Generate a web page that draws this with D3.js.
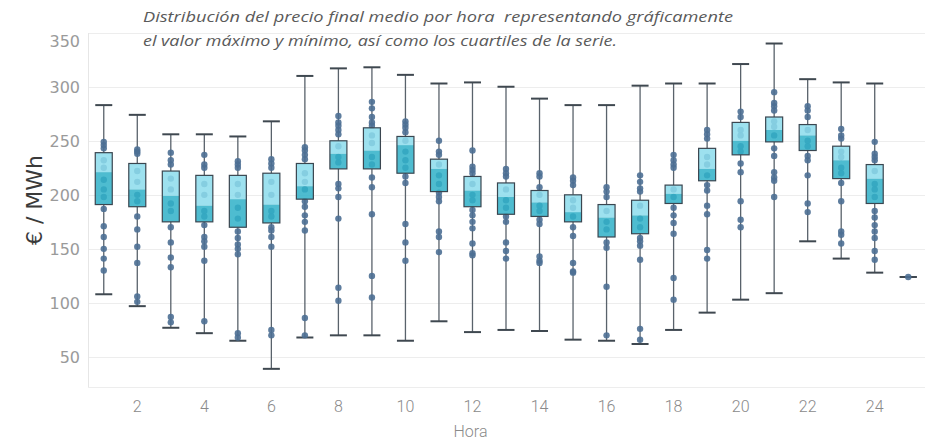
<!DOCTYPE html>
<html><head><meta charset="utf-8">
<script src="https://cdn.jsdelivr.net/npm/d3@7"></script>
<style>
html,body{margin:0;padding:0;background:#fff;}
svg{display:block;}
</style></head>
<body>
<svg id="chart" width="930" height="442"></svg>
<script>
const hours = [1,2,3,4,5,6,7,8,9,10,11,12,13,14,15,16,17,18,19,20,21,22,23,24,25];
const minVals    = [108, 97, 77, 72, 65, 39, 68, 70, 70, 65, 83, 73, 75, 74, 66, 65, 62, 75, 91,103,109,157,141,128,124];
const q1Vals     = [191,189,175,175,170,174,196,224,224,220,203,189,182,180,175,161,164,192,213,237,249,241,215,192,124];
const medianVals = [221,205,199,190,196,191,208,238,241,246,224,204,198,193,184,179,181,201,224,250,260,255,232,215,124];
const q3Vals     = [239,229,222,218,218,220,229,250,262,254,233,217,211,204,200,191,195,209,243,267,272,265,245,228,124];
const maxVals    = [283,274,256,256,254,268,310,317,318,311,303,304,300,289,283,283,301,303,303,321,340,307,304,303,124];
const pointVals = [
  [249,246,243,232,225,214,205,198,187,171,161,150,141,130],
  [242,240,238,222,212,200,194,180,168,152,137,106,101],
  [239,232,228,215,205,192,185,170,156,142,133,87,82],
  [237,228,225,210,200,185,180,172,161,157,152,139,83],
  [231,228,225,210,200,188,178,166,160,154,150,145,72,68],
  [233,229,225,212,200,185,180,170,167,161,152,75,70],
  [244,241,237,233,220,212,205,194,189,181,175,167,86,70],
  [273,267,264,260,256,245,235,230,210,206,198,178,114,102],
  [286,280,272,267,264,255,248,235,228,216,207,182,125,105],
  [268,265,262,258,250,240,232,225,217,211,173,156,139],
  [250,240,237,228,218,210,202,198,194,166,161,147],
  [241,226,223,220,210,200,195,186,181,175,169,155,146,144],
  [224,220,217,205,195,188,180,175,156,148,141],
  [220,217,207,200,190,185,177,173,143,139,137],
  [216,213,209,195,188,180,170,162,137,129,128],
  [207,203,198,185,175,168,156,151,115,70],
  [218,212,206,203,190,178,170,160,157,153,140,76,66],
  [237,232,228,225,205,198,188,181,174,164,123,103],
  [260,256,252,235,228,218,209,204,190,182,149,141],
  [277,272,260,255,245,240,229,221,194,177,170],
  [295,285,282,278,268,263,255,243,236,221,216,213,198],
  [282,278,272,260,250,245,236,232,218,192,184],
  [261,255,252,240,235,225,220,211,194,166,163,155],
  [249,238,235,232,222,210,205,198,185,179,172,166,160,148,140],
  [124]
];
const yTicks = [50,100,150,200,250,300,350];
const xTicks = [2,4,6,8,10,12,14,16,18,20,22,24];
const titleLines = ["Distribución del precio final medio por hora  representando gráficamente",
                    "el valor máximo y mínimo, así como los cuartiles de la serie."];

const svg = d3.select("#chart");
const plotLeft = 88, plotRight = 925, plotTop = 33, plotBottom = 387;
const x = d3.scaleBand().domain(hours).range([87, plotRight]).padding(0);
const y = d3.scaleLinear().domain([22.2, 350]).range([plotBottom, 32.7]);
const bw = 17;

// gridlines
svg.append("g").selectAll("line").data(yTicks).join("line")
  .attr("x1", plotLeft).attr("x2", plotRight)
  .attr("y1", d => Math.round(y(d)) + 0.5).attr("y2", d => Math.round(y(d)) + 0.5)
  .attr("stroke", "#ededed").attr("stroke-width", 1);
// frame
svg.append("line").attr("x1", plotLeft + 0.5).attr("x2", plotLeft + 0.5).attr("y1", plotTop).attr("y2", plotBottom)
  .attr("stroke", "#e6e6e6");
svg.append("line").attr("x1", plotLeft).attr("x2", plotRight).attr("y1", plotBottom + 0.5).attr("y2", plotBottom + 0.5)
  .attr("stroke", "#ededed");

// y axis
const yAxis = d3.axisLeft(y).tickValues(yTicks).tickSize(0).tickPadding(8);
const gy = svg.append("g").attr("transform", `translate(${plotLeft},0)`).call(yAxis);
gy.select(".domain").remove();
gy.selectAll("text").attr("font-family", "DejaVu Sans").attr("font-size", 16).attr("fill", "#9a9a9a")
  .attr("dy", "0.36em");
gy.selectAll(".tick").filter(d => d === 350).select("text").attr("dy", "0.85em");

// x axis
const xAxis = d3.axisBottom(x).tickValues(xTicks).tickSize(0).tickPadding(14);
const gx = svg.append("g").attr("transform", `translate(0,${plotBottom})`).call(xAxis);
gx.select(".domain").remove();
gx.selectAll("text").attr("font-family", "Roboto").attr("font-weight", 300)
  .attr("font-size", 16).attr("fill", "#8a8a8a");

svg.append("text").attr("x", x(12) + x.bandwidth()/2 - 2).attr("y", 437).attr("text-anchor", "middle")
  .attr("font-family", "Roboto").attr("font-weight", 300)
  .attr("font-size", 16).attr("fill", "#8a8a8a").text("Hora");

svg.append("text").attr("transform", `translate(42,200) rotate(-90)`).attr("text-anchor", "middle")
  .attr("font-family", "DejaVu Sans").attr("font-size", 22).attr("fill", "#3a3a3a").text("€ / MWh");

// title
svg.append("g").selectAll("text").data(titleLines).join("text")
  .attr("x", 143).attr("y", (d, i) => 22 + i * 24)
  .style("white-space", "pre")
  .attr("font-family", "Open Sans").attr("font-style", "italic").attr("font-size", 15)
  .attr("fill", "#5a5a5a")
  .attr("textLength", (d, i) => i === 0 ? 590 : 474).attr("lengthAdjust", "spacingAndGlyphs")
  .text(d => d);

const cx = h => x(h) + x.bandwidth() / 2;
const g = svg.append("g");
const whiskColor = "#59626b";

hours.forEach((h, i) => {
  const c = cx(h);
  g.append("line").attr("x1", c).attr("x2", c).attr("y1", y(maxVals[i])).attr("y2", y(q3Vals[i]))
    .attr("stroke", whiskColor).attr("stroke-width", 1.3);
  g.append("line").attr("x1", c).attr("x2", c).attr("y1", y(q1Vals[i])).attr("y2", y(minVals[i]))
    .attr("stroke", whiskColor).attr("stroke-width", 1.3);
  [minVals[i], maxVals[i]].forEach(v => {
    g.append("line").attr("x1", c - bw/2).attr("x2", c + bw/2).attr("y1", y(v)).attr("y2", y(v))
      .attr("stroke", "#3f4850").attr("stroke-width", 2);
  });
  g.append("g").selectAll("circle").data(pointVals[i]).join("circle")
    .attr("cx", c).attr("cy", d => y(d)).attr("r", 3.2)
    .attr("fill", "#4d6f94").attr("fill-opacity", 0.9);
  if (q3Vals[i] > q1Vals[i]) {
    g.append("rect").attr("x", c - bw/2).attr("width", bw)
      .attr("y", y(q3Vals[i])).attr("height", y(medianVals[i]) - y(q3Vals[i]))
      .attr("fill", "#8cdcec").attr("fill-opacity", 0.85);
    g.append("rect").attr("x", c - bw/2).attr("width", bw)
      .attr("y", y(medianVals[i])).attr("height", y(q1Vals[i]) - y(medianVals[i]))
      .attr("fill", "#2fb0c8").attr("fill-opacity", 0.85);
    g.append("rect").attr("x", c - bw/2).attr("width", bw)
      .attr("y", y(q3Vals[i])).attr("height", y(q1Vals[i]) - y(q3Vals[i]))
      .attr("fill", "none").attr("stroke", "#3a4650").attr("stroke-width", 1.2);
  }
});
</script>
</body></html>
